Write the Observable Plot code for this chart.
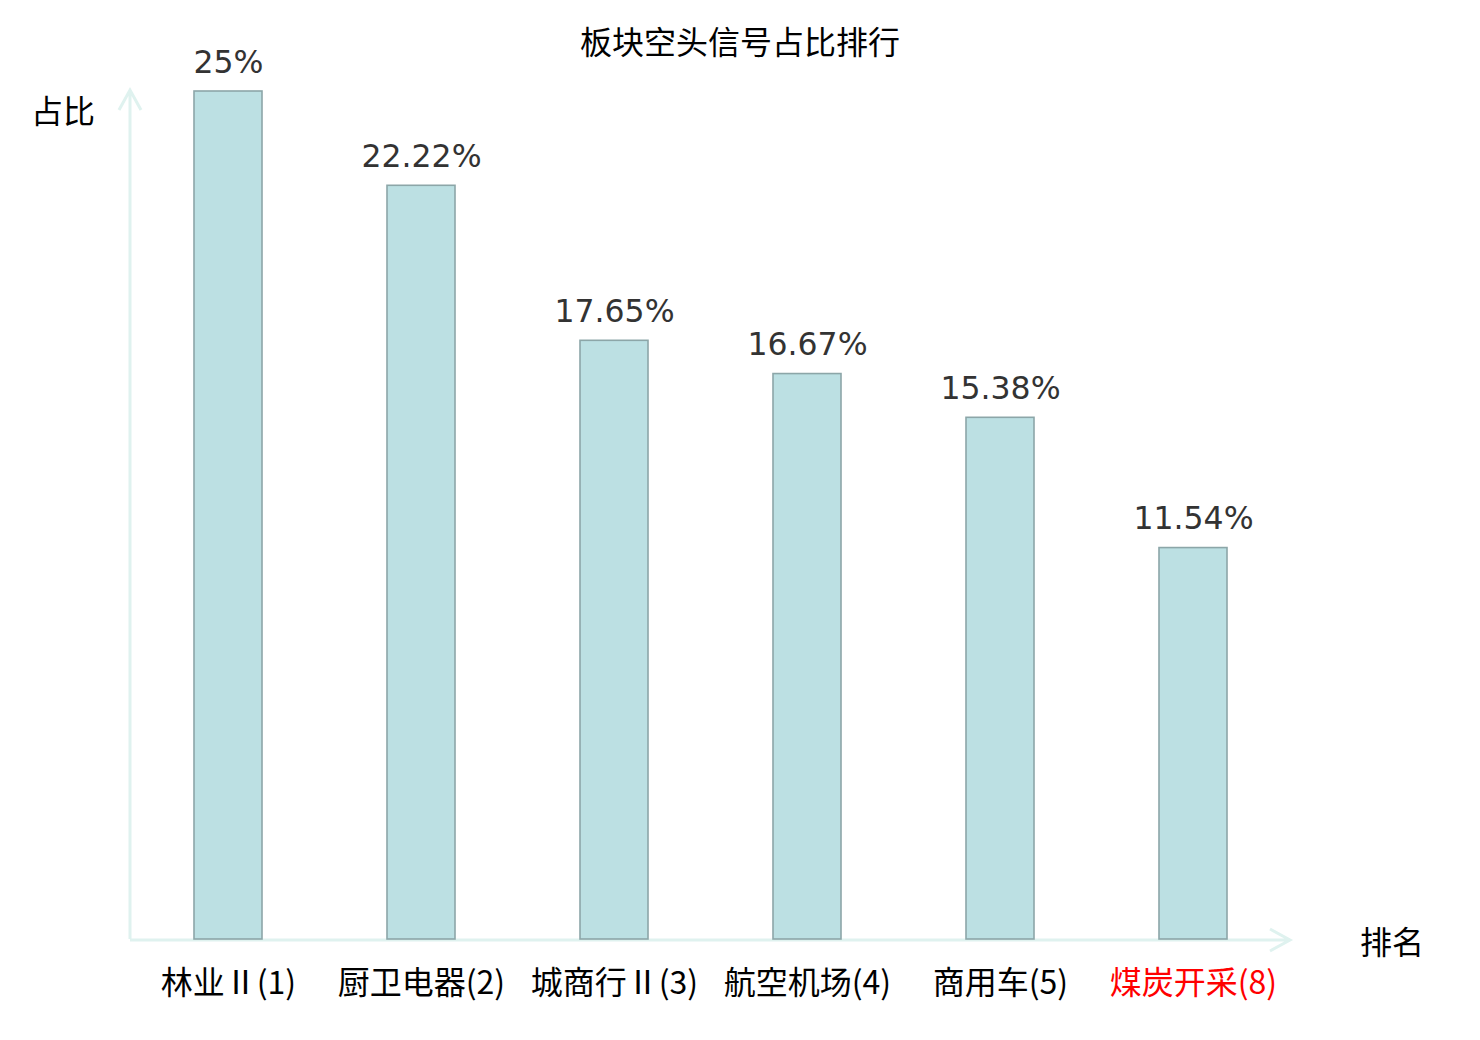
<!DOCTYPE html>
<html><head><meta charset="utf-8">
<script src="https://cdn.jsdelivr.net/npm/d3@7"></script>
<script src="https://cdn.jsdelivr.net/npm/@observablehq/plot@0.6"></script>
<style>
body{margin:0;background:#fff;}
#wrap{position:relative;width:1480px;height:1040px;font-family:"Noto Sans CJK SC",sans-serif;overflow:hidden;}
#wrap svg{position:absolute;left:0;top:0;}
#wrap svg g[font-family="Noto Sans CJK JP"] text{font-feature-settings:"pwid";}
.abs{position:absolute;transform:translate(-50%,-50%);white-space:nowrap;color:#000;font-size:32px;line-height:1;}
</style></head><body>
<div id="wrap"></div>
<script>
const titleText = "板块空头信号占比排行";
const yLabel = "占比";
const xLabel = "排名";
const categories = ["林业Ⅱ(1)", "厨卫电器(2)", "城商行Ⅱ(3)", "航空机场(4)", "商用车(5)", "煤炭开采(8)"];
const values = [25, 22.22, 17.65, 16.67, 15.38, 11.54];
const valueLabels = ["25%", "22.22%", "17.65%", "16.67%", "15.38%", "11.54%"];
const highlighted = [false, false, false, false, false, true];

const data = categories.map((c, i) => ({name: c, value: values[i], label: valueLabels[i], hi: highlighted[i]}));

function axesMark(index, scales, vals, dims) {
  const {width, height, marginLeft, marginRight, marginTop, marginBottom} = dims;
  const x0 = marginLeft, y0 = height - marginBottom, x1 = width - marginRight, yTop = marginTop - 1;
  const g = d3.create("svg:g").attr("stroke", "#dff2ef").attr("stroke-width", 3).attr("fill", "none");
  g.append("path").attr("d", `M${x0},${y0}V${yTop}M${x0 - 11},${yTop + 20}L${x0},${yTop}L${x0 + 11},${yTop + 20}`);
  g.append("path").attr("d", `M${x0},${y0 + 1}H${x1}M${x1 - 20},${y0 - 10}L${x1},${y0 + 1}L${x1 - 20},${y0 + 12}`);
  return g.node();
}

const plot = Plot.plot({
  width: 1480, height: 1040,
  marginLeft: 130, marginRight: 190, marginTop: 91, marginBottom: 101,
  x: {domain: categories, paddingInner: 0.65, paddingOuter: 0.325, axis: null},
  y: {domain: [0, 25], axis: null},
  style: {background: "transparent"},
  marks: [
    axesMark,
    Plot.barY(data, {x: "name", y: "value", fill: "#bce0e3", stroke: "#8ca6a8", strokeWidth: 1.6}),
    Plot.text(data, {x: "name", y: "value", text: "label", lineAnchor: "bottom", dy: -19, fontSize: 31.5, fill: "#333", fontFamily: "DejaVu Sans"}),
    Plot.text(data.filter(d => !d.hi), {x: "name", frameAnchor: "bottom", dy: 54, text: "name", fontSize: 32, fill: "#000", fontFamily: "Noto Sans CJK JP"}),
    Plot.text(data.filter(d => d.hi), {x: "name", frameAnchor: "bottom", dy: 54, text: "name", fontSize: 32, fill: "#f00", fontFamily: "Noto Sans CJK JP"})
  ]
});

const wrap = document.getElementById("wrap");
wrap.appendChild(plot);
function addLabel(text, x, y) {
  const d = document.createElement("div");
  d.className = "abs";
  d.textContent = text;
  d.style.left = x + "px";
  d.style.top = y + "px";
  wrap.appendChild(d);
}
addLabel(titleText, 740, 40);
addLabel(yLabel, 63, 109);
addLabel(xLabel, 1392, 940);
</script>
</body></html>
